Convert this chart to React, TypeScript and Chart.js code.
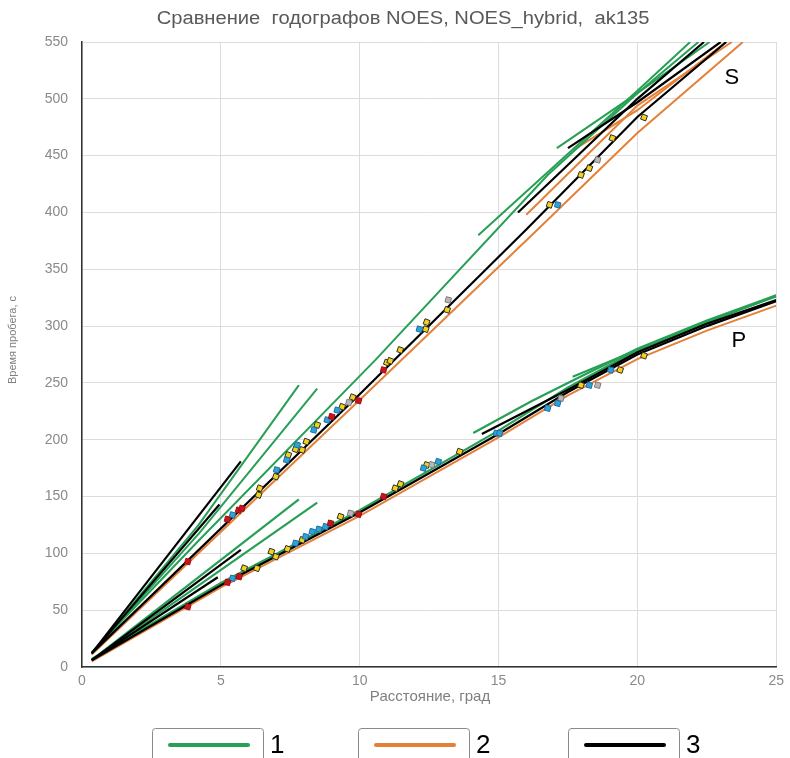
import React, { useEffect, useRef } from 'react';
import { Chart, registerables } from 'chart.js';

Chart.register(...registerables);

type Pt = [number, number];

const TITLE = 'Сравнение  годографов NOES, NOES_hybrid,  ak135';
const X_LABEL = 'Расстояние, град';
const Y_LABEL = 'Время пробега, с';
const LEGEND_LABELS = ['1', '2', '3'];
const X_MIN = 0;
const X_MAX = 25;
const X_STEP = 5;
const Y_MIN = 0;
const Y_MAX = 550;
const Y_STEP = 50;

// NOES travel-time branches (green)
const noesS: Pt[][] = [
  [[0.35, 12], [4.2, 125], [7.81, 248]],
  [[0.35, 12], [4.23, 118], [8.47, 245]],
  [[0.35, 13], [4.23, 112], [10.56, 270], [16.77, 433], [20, 505], [22.2, 550]],
  [[14.27, 380], [20, 507], [21.9, 550]],
  [[17.1, 456.6], [20, 505], [22.6, 550]],
];
const noesP: Pt[][] = [
  [[0.35, 6], [7.81, 147.6]],
  [[0.35, 6], [8.47, 144.6]],
  [[0.35, 7], [5, 74], [10, 138], [15, 208], [17.5, 246], [20, 279], [22.5, 304], [25, 326]],
  [[14.09, 206], [16.2, 234], [18, 256], [20, 280], [22.5, 305], [25, 327]],
  [[17.67, 255.5], [20, 279], [25, 327]],
];

// NOES_hybrid travel-time branches (orange)
const hybridS: Pt[][] = [
  [[0.35, 11], [10, 235], [16.4, 384.7], [20, 470], [23.8, 550]],
  [[16.0, 398], [20, 494], [23.4, 550]],
  [[17.7, 455], [20, 490], [23.2, 550]],
];
const hybridP: Pt[][] = [
  [[0.35, 5], [5, 70], [10, 133], [15, 202], [17.5, 239], [20, 271], [22.5, 296], [25, 318]],
];

// ak135 travel-time branches (black)
const ak135S: Pt[][] = [
  [[0.35, 12], [10, 240], [16, 385], [20, 484], [23.2, 550]],
  [[0.35, 12], [5.72, 181]],
  [[0.35, 12], [4.95, 143]],
  [[15.7, 400], [20, 500], [22.4, 550]],
  [[17.5, 456.6], [20, 497], [23.0, 550]],
];
const ak135P: Pt[][] = [
  [[0.35, 6], [5, 72], [10, 136], [15, 205], [17.5, 242], [20, 275], [22.5, 300], [25, 322]],
  [[0.35, 6], [5.72, 103]],
  [[0.35, 6], [4.89, 79]],
  [[14.4, 205], [17.5, 244], [20, 277], [22.5, 302], [25, 323]],
];

// Observed arrivals
const redPoints: Pt[] = [
  [3.81, 92.7], [5.24, 130], [5.64, 138], [5.76, 139.6], [8.99, 220.3], [9.96, 234.4], [10.86, 261.4],
  [3.81, 53], [5.24, 74.5], [5.66, 79.5], [8.95, 126.5], [9.96, 134.4], [10.86, 150],
];
const yellowPoints: Pt[] = [
  [6.36, 151.4], [6.4, 157.3], [6.98, 167.5], [7.43, 186.6], [7.69, 191.6], [7.93, 191], [8.08, 198.3],
  [8.47, 213], [9.37, 229], [9.75, 237.4], [10.98, 267.9], [11.1, 269.4], [11.46, 279], [12.41, 303.4],
  [12.38, 297.3], [13.15, 314.3], [16.84, 406.7], [17.97, 433], [18.27, 439], [19.1, 465.4], [20.24, 483.6],
  [5.84, 86.9], [6.3, 86.9], [6.82, 101.5], [6.98, 97.1], [7.4, 103.9], [7.93, 111.8], [9.31, 132.3],
  [11.28, 157.3], [11.47, 161], [12.41, 177.8], [13.6, 189.5], [17.97, 248], [19.38, 261.4], [20.24, 274],
];
const bluePoints: Pt[] = [
  [5.42, 133.8], [7.01, 173.4], [7.37, 182.2], [7.75, 195.4], [8.35, 208.6], [8.83, 217.4], [9.19, 226],
  [12.15, 297.3], [17.13, 406.7],
  [5.42, 78], [7.69, 108.9], [8.05, 114.7], [8.29, 119.1], [8.53, 121.2], [8.77, 123.5], [12.3, 175],
  [12.83, 180.7], [14.92, 205.7], [15.04, 205.7], [16.77, 227.7], [17.13, 232], [18.27, 248], [19.04, 261.4],
];
const grayPoints: Pt[] = [
  [9.61, 232.7], [13.19, 323], [18.57, 446.3],
  [9.67, 135.3], [12.6, 178], [17.25, 236.5], [18.57, 248],
];

const GREEN = '#27a055';
const ORANGE = '#e58038';
const BLACK = '#000000';
const FONT = '"Liberation Sans", Arial, sans-serif';

const toXY = (pts: Pt[]) => pts.map(([x, y]) => ({ x, y }));

function curves(list: Pt[][], color: string, width: number, order: number) {
  return list.map((pts) => ({
    data: toXY(pts),
    showLine: true,
    borderColor: color,
    backgroundColor: color,
    borderWidth: width,
    pointRadius: 0,
    pointHoverRadius: 0,
    tension: 0,
    order,
  }));
}

function markers(pts: Pt[], fill: string, stroke: string, rotation: number) {
  return {
    data: toXY(pts),
    showLine: false,
    pointStyle: 'rect',
    rotation,
    pointRadius: 3.8,
    backgroundColor: fill,
    borderColor: stroke,
    borderWidth: 1,
    order: 0,
  };
}

const decorations = {
  id: 'decorations',
  afterDraw(chart: any) {
    const { ctx } = chart;
    const xs = chart.scales.x;
    const ys = chart.scales.y;
    ctx.save();
    ctx.textAlign = 'center';
    ctx.textBaseline = 'middle';

    // chart title, slightly widened
    ctx.save();
    ctx.translate(403, 19);
    ctx.scale(1.12, 1);
    ctx.fillStyle = '#595959';
    ctx.font = `18px ${FONT}`;
    ctx.fillText(TITLE, 0, 0);
    ctx.restore();

    ctx.fillStyle = '#7f7f7f';
    ctx.font = `15px ${FONT}`;
    ctx.fillText(X_LABEL, 430, 697);

    ctx.save();
    ctx.translate(13, 340);
    ctx.rotate(-Math.PI / 2);
    ctx.font = `11px ${FONT}`;
    ctx.fillText(Y_LABEL, 0, 0);
    ctx.restore();

    ctx.fillStyle = '#000';
    ctx.font = `22px ${FONT}`;
    ctx.fillText('S', xs.getPixelForValue(23.4), ys.getPixelForValue(518));
    ctx.fillText('P', xs.getPixelForValue(23.65), ys.getPixelForValue(287));

    // legend: framed line samples with numbers beside them
    const colors = [GREEN, ORANGE, BLACK];
    const boxes = [152, 358, 568];
    boxes.forEach((bx, i) => {
      ctx.strokeStyle = '#8a8a8a';
      ctx.lineWidth = 1;
      ctx.beginPath();
      ctx.roundRect(bx + 0.5, 728.5, 111, 40, 3);
      ctx.stroke();
      ctx.strokeStyle = colors[i];
      ctx.lineWidth = 4;
      ctx.lineCap = 'round';
      ctx.beginPath();
      ctx.moveTo(bx + 18, 745);
      ctx.lineTo(bx + 96, 745);
      ctx.stroke();
      ctx.fillStyle = '#000';
      ctx.font = `26px ${FONT}`;
      ctx.textAlign = 'left';
      ctx.fillText(LEGEND_LABELS[i], bx + 118, 746);
    });
    ctx.restore();
  },
};

export default function App() {
  const ref = useRef<HTMLCanvasElement | null>(null);

  useEffect(() => {
    if (!ref.current) return;
    const datasets: any[] = [
      ...curves(hybridS, ORANGE, 2, 3),
      ...curves(hybridP, ORANGE, 2, 3),
      ...curves(noesS, GREEN, 2, 2),
      ...curves(noesP, GREEN, 2.2, 2),
      ...curves(ak135S, BLACK, 2.2, 1),
      ...curves(ak135P, BLACK, 2.2, 1),
      markers(redPoints, '#c8151d', '#a00d14', 15),
      markers(bluePoints, '#2fa2da', '#1e6f9c', 15),
      markers(grayPoints, '#b8b8b8', '#7a7a7a', 15),
      markers(yellowPoints, '#f4d21c', '#2a2a2a', 20),
    ];
    const chart = new Chart(ref.current, {
      type: 'scatter',
      data: { datasets },
      options: {
        animation: false,
        responsive: false,
        devicePixelRatio: 1,
        layout: { padding: { left: 0, right: 10, top: 42, bottom: 0 } },
        plugins: { legend: { display: false }, tooltip: { enabled: false }, title: { display: false } },
        scales: {
          x: {
            type: 'linear',
            min: X_MIN,
            max: X_MAX,
            afterFit: (s: any) => { s.height = 91; },
            ticks: { stepSize: X_STEP, color: '#8a8a8a', font: { family: FONT, size: 14 }, padding: 6 },
            grid: { color: '#dcdcdc', lineWidth: 1, drawTicks: false },
            border: { color: '#333333', width: 1.5 },
          },
          y: {
            type: 'linear',
            min: Y_MIN,
            max: Y_MAX,
            afterFit: (s: any) => { s.width = 82; },
            ticks: { stepSize: Y_STEP, color: '#8a8a8a', font: { family: FONT, size: 14 }, padding: 14 },
            grid: { color: '#dcdcdc', lineWidth: 1, drawTicks: false },
            border: { color: '#333333', width: 1.5 },
          },
        },
      },
      plugins: [decorations],
    });
    return () => chart.destroy();
  }, []);

  return (
    <div style={{ position: 'fixed', left: 0, top: 0, width: 790, height: 758, background: '#fff', overflow: 'hidden' }}>
      <canvas ref={ref} width={790} height={758} style={{ width: 790, height: 758, display: 'block' }} />
    </div>
  );
}
